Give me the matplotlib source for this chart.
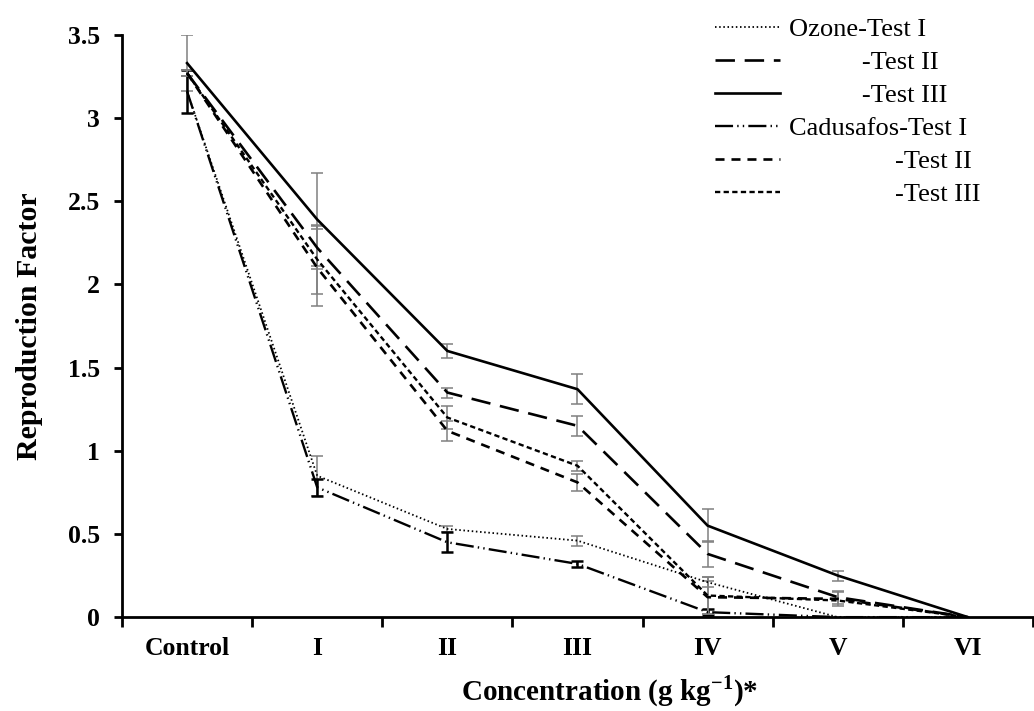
import numpy as np
import matplotlib
matplotlib.use('Agg')
import matplotlib.pyplot as plt

plt.rcParams['font.family'] = ['Liberation Serif', 'DejaVu Serif']
plt.rcParams['mathtext.fontset'] = 'custom'
plt.rcParams['mathtext.rm'] = 'Liberation Serif'
plt.rcParams['mathtext.bf'] = 'Liberation Serif:bold'
plt.rcParams['lines.scale_dashes'] = False

categories = ['Control', 'I', 'II', 'III', 'IV', 'V', 'VI']

ozone_1 = [3.16, 0.85, 0.53, 0.46, 0.21, 0.00, 0.00]
ozone_2 = [3.27, 2.22, 1.35, 1.15, 0.38, 0.12, 0.00]
ozone_3 = [3.33, 2.39, 1.60, 1.37, 0.55, 0.25, 0.00]
cad_1 = [3.16, 0.78, 0.45, 0.32, 0.03, 0.00, 0.00]
cad_2 = [3.27, 2.10, 1.12, 0.81, 0.12, 0.11, 0.00]
cad_3 = [3.27, 2.15, 1.20, 0.91, 0.13, 0.10, 0.00]

ozone_1_err = [0.00, 0.12, 0.02, 0.03, 0.03, 0.00, 0.00]
ozone_2_err = [0.02, 0.13, 0.03, 0.06, 0.08, 0.04, 0.00]
ozone_3_err = [0.17, 0.28, 0.04, 0.09, 0.10, 0.03, 0.00]
cad_1_err = [0.13, 0.05, 0.06, 0.02, 0.02, 0.00, 0.00]
cad_2_err = [0.02, 0.23, 0.06, 0.05, 0.10, 0.04, 0.00]
cad_3_err = [0.02, 0.21, 0.07, 0.03, 0.11, 0.00, 0.00]

labels = ['Ozone-Test I',
          '           -Test II',
          '           -Test III',
          'Cadusafos-Test I',
          '                -Test II',
          '                -Test III']

series = [ozone_1, ozone_2, ozone_3, cad_1, cad_2, cad_3]
errors = [ozone_1_err, ozone_2_err, ozone_3_err, cad_1_err, cad_2_err, cad_3_err]
styles = [
    dict(lw=1.3, dashes=(1.1, 1.9)),
    dict(lw=1.9, dashes=(14, 7)),
    dict(lw=1.9, linestyle='-'),
    dict(lw=1.7, dashes=(13, 3, 1, 3, 1, 3)),
    dict(lw=1.9, dashes=(6.5, 5)),
    dict(lw=1.7, dashes=(3.8, 2.4)),
]
err_colors = ['#808080', '#808080', '#808080', 'black', '#808080', '#808080']
err_lw = [1.1, 1.1, 1.1, 1.8, 1.1, 1.1]

fig = plt.figure(figsize=(10.34, 7.11), dpi=100)
ax = fig.add_axes([0.118, 0.132, 0.881, 0.819])

x = np.arange(len(categories))
handles = []
for vals, err, st, ec, elw in zip(series, errors, styles, err_colors, err_lw):
    e = np.array(err, dtype=float)
    e[e == 0] = np.nan
    ax.errorbar(x, vals, yerr=e, fmt='none', ecolor=ec, elinewidth=elw,
                capsize=4.5, capthick=elw, zorder=2)
    line, = ax.plot(x, vals, color='black', zorder=3, **st)
    handles.append(line)

ax.set_xlim(-0.5, 6.5)
ax.set_ylim(0, 3.5)
ax.set_yticks(np.arange(0, 3.51, 0.5))
ax.set_yticklabels(['0', '0.5', '1', '1.5', '2', '2.5', '3', '3.5'])
ax.set_xticks(np.arange(-0.5, 6.6, 1))
ax.set_xticklabels([])
ax.set_xticks(x, minor=True)
ax.set_xticklabels(categories, minor=True)

for s in ['top', 'right']:
    ax.spines[s].set_visible(False)
for s in ['left', 'bottom']:
    ax.spines[s].set_linewidth(2)

ax.tick_params(axis='y', which='major', length=6, width=2, direction='out',
               pad=10, labelsize=18.5)
ax.tick_params(axis='x', which='major', length=7, width=2, direction='out')
ax.tick_params(axis='x', which='minor', length=0, pad=14, labelsize=18.5)
for t in ax.get_yticklabels() + ax.get_xticklabels(minor=True):
    t.set_fontweight('bold')

ax.set_ylabel('Reproduction Factor', fontsize=21.5, fontweight='bold')
ax.yaxis.set_label_coords(-0.087, 0.5)
ax.set_xlabel(r'Concentration (g kg$^{\mathbf{-1}}$)*', fontsize=21,
              fontweight='bold', va='baseline')
ax.xaxis.set_label_coords(0.535, -0.143)

fig.legend(handles, labels, loc='upper left',
           bbox_to_anchor=(715 / 1034, 1 - 18 / 711),
           frameon=False, fontsize=19, handlelength=2.46, handletextpad=0.34,
           labelspacing=0.36, borderpad=0, borderaxespad=0)

fig.savefig('out.png', dpi=100)
